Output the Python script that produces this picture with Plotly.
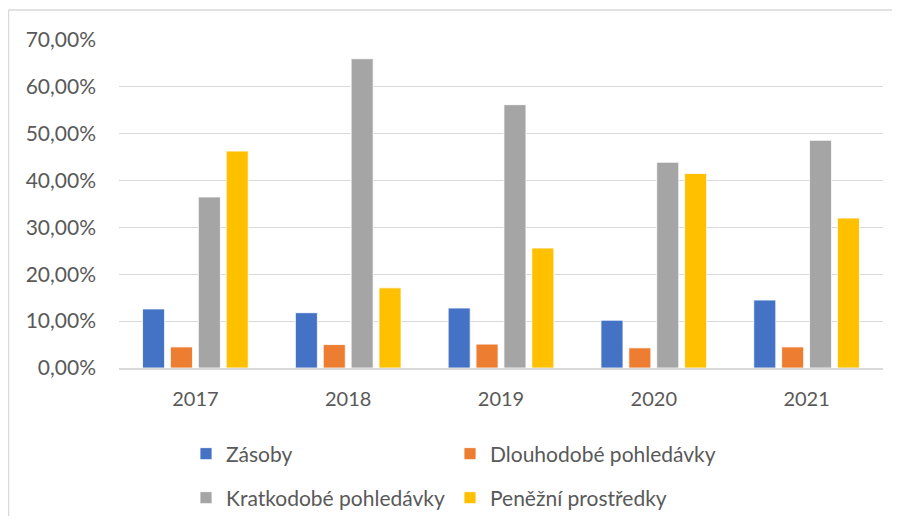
import plotly.graph_objects as go

years = ["2017", "2018", "2019", "2020", "2021"]
zasoby = [12.6, 11.8, 12.8, 10.2, 14.5]
dlouhodobe = [4.5, 5.0, 5.1, 4.3, 4.5]
kratkodobe = [36.5, 66.0, 56.2, 43.9, 48.6]
penezni = [46.3, 17.1, 25.6, 41.5, 32.0]

y_ticks = [0, 10, 20, 30, 40, 50, 60, 70]
y_labels = [f"{v},00%" for v in y_ticks]

BLUE = "#4472C4"
ORANGE = "#ED7D31"
GREY = "#A5A5A5"
YELLOW = "#FFC000"
TEXT = "#595959"
GRID = "#D9D9D9"
FONT = "Lato, Calibri, sans-serif"

# the page puts the figure 8px in from the window's corner
OFF = 8
W, H = 900 - OFF, 524 - 2 * OFF
L, R, T = 119 - OFF, W - (883 - OFF), 40 - OFF
B = H - (368 - OFF)


def cx(p):
    # window pixel -> container fraction
    return (p - OFF) / W


def cy(p):
    return 1 - (p - OFF) / H


# one legend per entry so the 2x2 grid of the original can be placed exactly
series = [
    ("Zásoby", zasoby, BLUE, "legend", 186, 454),
    ("Dlouhodobé pohledávky", dlouhodobe, ORANGE, "legend2", 450, 454),
    ("Kratkodobé pohledávky", kratkodobe, GREY, "legend3", 186, 498),
    ("Peněžní prostředky", penezni, YELLOW, "legend4", 450, 498),
]

fig = go.Figure()
legends = {}
for name, vals, col, leg, lx, ly in series:
    fig.add_trace(go.Bar(
        x=years, y=vals, name=name, legend=leg, showlegend=True,
        marker=dict(color=col, line=dict(color="white", width=0.8)),
    ))
    legends[leg] = dict(
        x=cx(lx), y=cy(ly), xref="container", yref="container",
        orientation="h", xanchor="left", yanchor="middle",
        font=dict(family=FONT, size=21, color=TEXT),
        bgcolor="rgba(0,0,0,0)", itemwidth=30,
    )

pw = W - L - R
ph = H - T - B


def px_x(p):
    # window pixel -> paper fraction
    return (p - OFF - L) / pw


def px_y(p):
    return (H - B - (p - OFF)) / ph


fig.update_layout(
    width=W, height=H,
    showlegend=True,
    margin=dict(l=L, r=R, t=T, b=B, autoexpand=False),
    plot_bgcolor="white", paper_bgcolor="white",
    barmode="group", bargap=0.27, bargroupgap=0.21,
    font=dict(family=FONT, size=20, color=TEXT),
    xaxis=dict(showgrid=False, showline=True, linecolor=GRID, linewidth=1.5,
               ticks="", ticklabelstandoff=12,
               tickfont=dict(family=FONT, size=20, color=TEXT)),
    yaxis=dict(range=[0, 70], tickvals=y_ticks, ticktext=y_labels,
               showgrid=True, gridcolor=GRID, gridwidth=1.3,
               zeroline=False, ticks="", ticklabelstandoff=22,
               tickfont=dict(family=FONT, size=21, color=TEXT)),
    shapes=[
        dict(type="line", xref="paper", yref="paper",
             x0=px_x(8.5), x1=px_x(915), y0=px_y(10), y1=px_y(10),
             line=dict(color=GRID, width=1.5)),
        dict(type="line", xref="paper", yref="paper",
             x0=px_x(8.5), x1=px_x(8.5), y0=px_y(10), y1=px_y(540),
             line=dict(color=GRID, width=1.5)),
    ],
    **legends,
)

fig.write_html("out.html")
